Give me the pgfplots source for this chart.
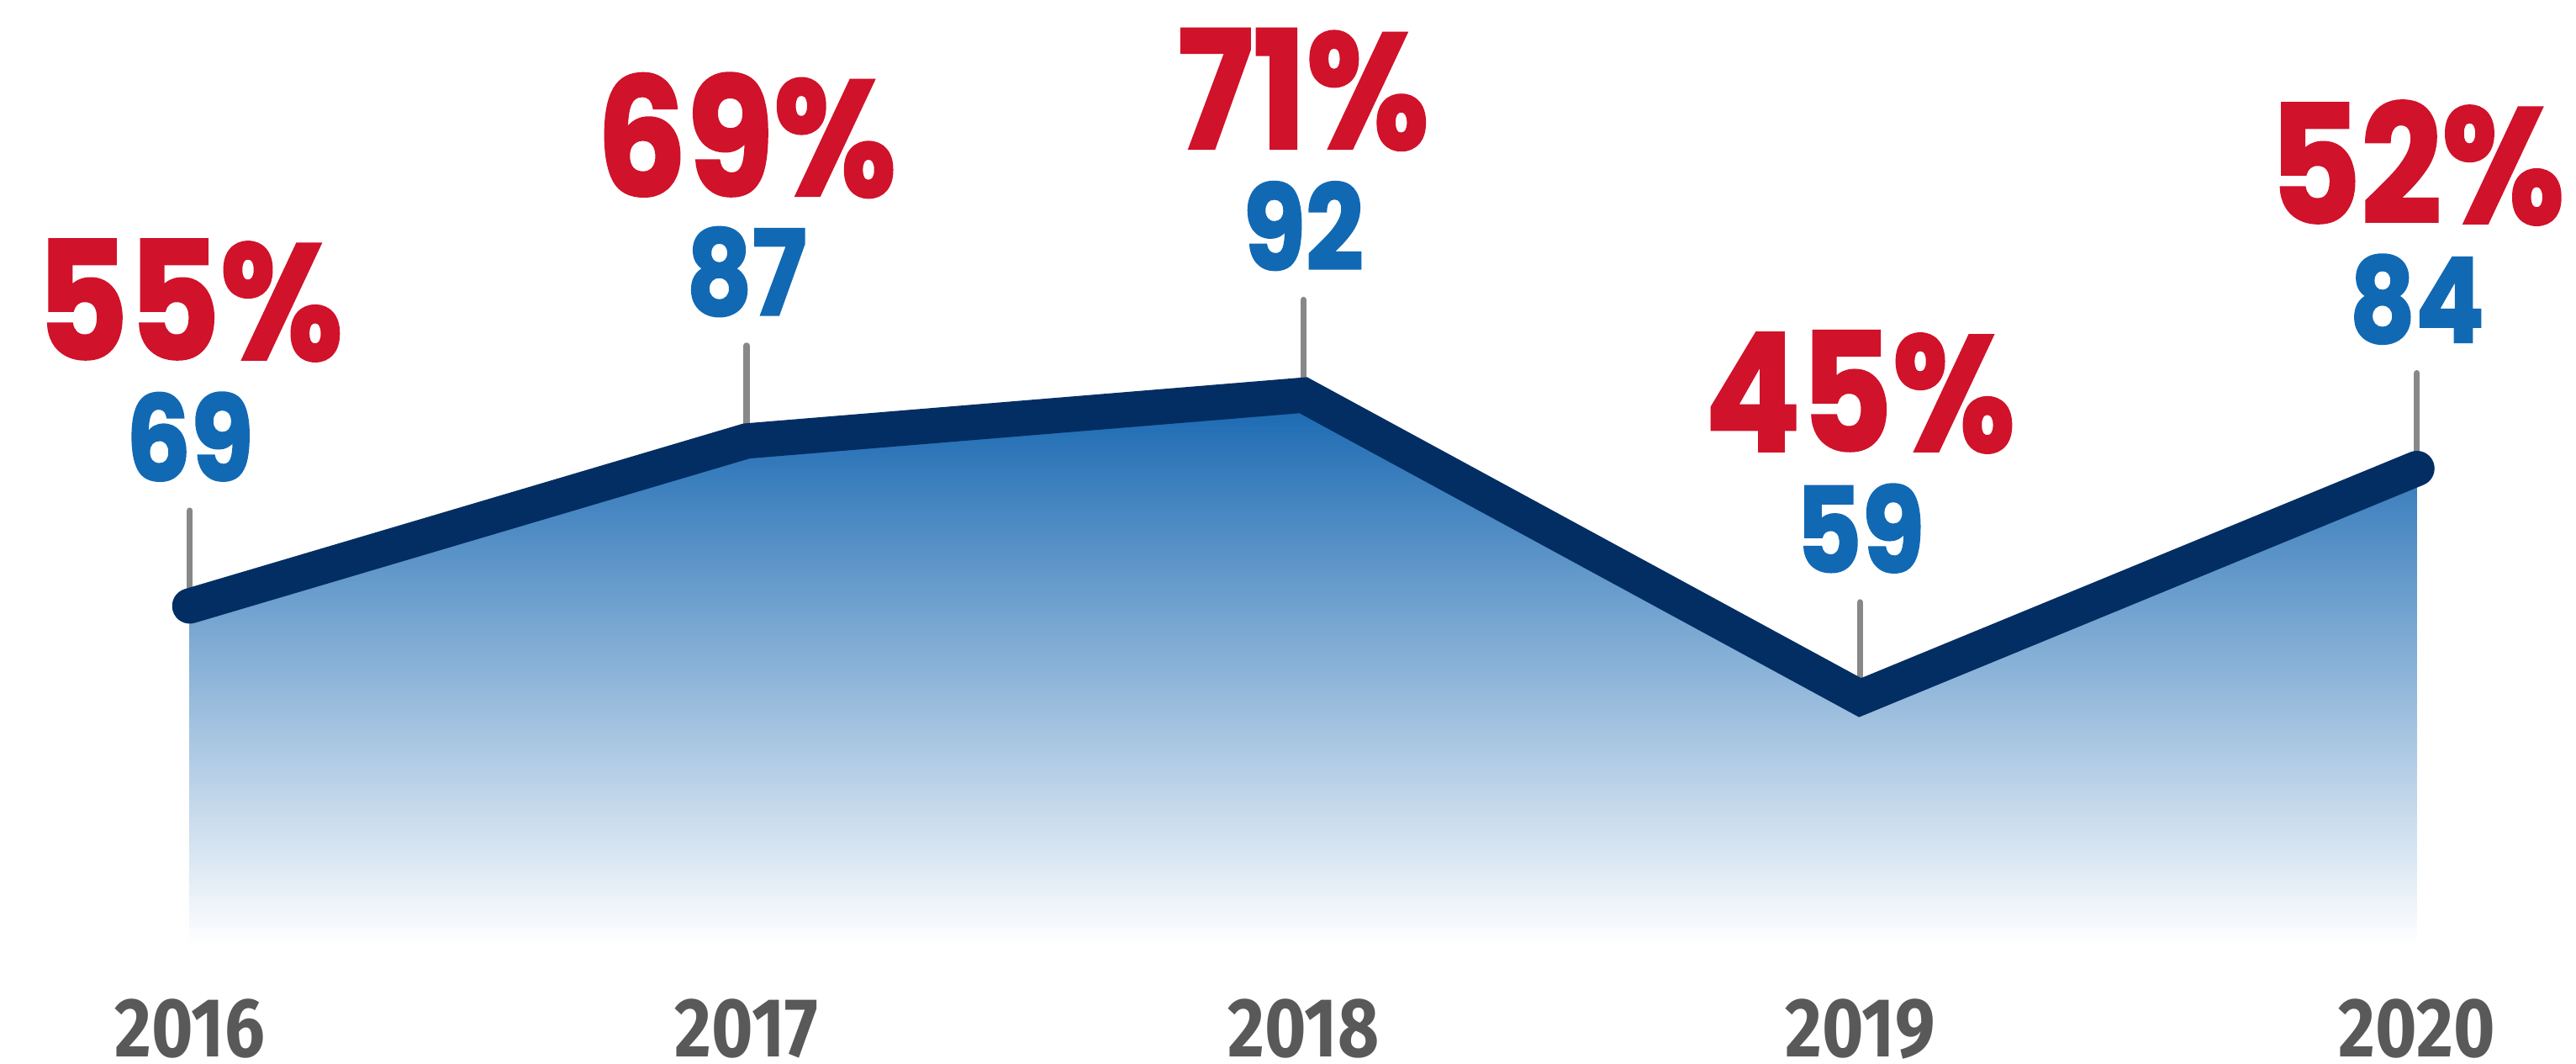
\documentclass[border=0pt]{standalone}
\usepackage{fontspec}
\setmainfont{Fira Sans}
\usepackage{pgfplots}
\usepackage{pgfplotstable}
\pgfplotsset{compat=1.18}
\newfontfamily\numfont[FakeStretch=0.86, FakeBold=1.5]{Poppins}
\newfontfamily\yearfont[FakeStretch=0.85]{Fira Sans}
\definecolor{navy}{HTML}{032E63}
\definecolor{fillblue}{HTML}{1767B1}
\definecolor{pctred}{HTML}{D0122A}
\definecolor{numblue}{HTML}{1169B4}
\definecolor{tickgray}{HTML}{888888}
\definecolor{yeargray}{HTML}{595959}

% year, plotted count (blue), share in percent (red)
\pgfplotstableread{
year val pct
2016 69 55
2017 87 69
2018 92 71
2019 59 45
2020 84 52
}\data

\begin{document}
\begin{tikzpicture}
\path[use as bounding box] (0,-72bp) rectangle (1568bp,575bp);
\begin{axis}[
  at={(0,0)}, anchor=south west,
  scale only axis, width=1568bp, height=575bp,
  xmin=2015.6592, xmax=2020.2859,
  ymin=32, ymax=135.12,
  clip=false,
  axis line style={draw=none},
  tick style={draw=none},
  ytick=\empty,
  xtick={2016,2017,2018,2019,2020},
  xticklabels={2016,2017,2018,2019,2020},
  xticklabel style={font=\yearfont\bfseries\fontsize{51bp}{51bp}\selectfont,
    text=yeargray, anchor=center, yshift=-51bp, inner sep=0pt},
]
% gradient area
\addplot[draw=none, top color=fillblue, bottom color=white]
  table[x=year, y=val] {\data} \closedcycle;
% short gray leader lines above the points
\addplot[draw=none, mark=none,
  error bars/.cd, y dir=plus, y fixed=10.4, error mark=none,
  error bar style={draw=tickgray, line width=3.8bp, line cap=round}]
  table[x=year, y=val] {\data};
% main line
\addplot[navy, line width=21.5bp, line cap=round, line join=miter, mark=none]
  table[x=year, y=val] {\data};
% blue counts
\addplot[draw=none, mark=none, point meta=explicit symbolic,
  nodes near coords={\pgfplotspointmeta},
  every node near coord/.append style={anchor=center, yshift=103bp, inner sep=0pt,
    text=numblue, font=\numfont\bfseries\fontsize{72bp}{72bp}\selectfont}]
  table[x=year, y=val, meta=val] {\data};
% red shares
\addplot[draw=none, mark=none, point meta=explicit symbolic,
  nodes near coords={\pgfplotspointmeta\%},
  every node near coord/.append style={anchor=center, yshift=186bp, inner sep=0pt,
    text=pctred, font=\numfont\bfseries\fontsize{100bp}{100bp}\selectfont}]
  table[x=year, y=val, meta=pct] {\data};
\end{axis}
\end{tikzpicture}
\end{document}
